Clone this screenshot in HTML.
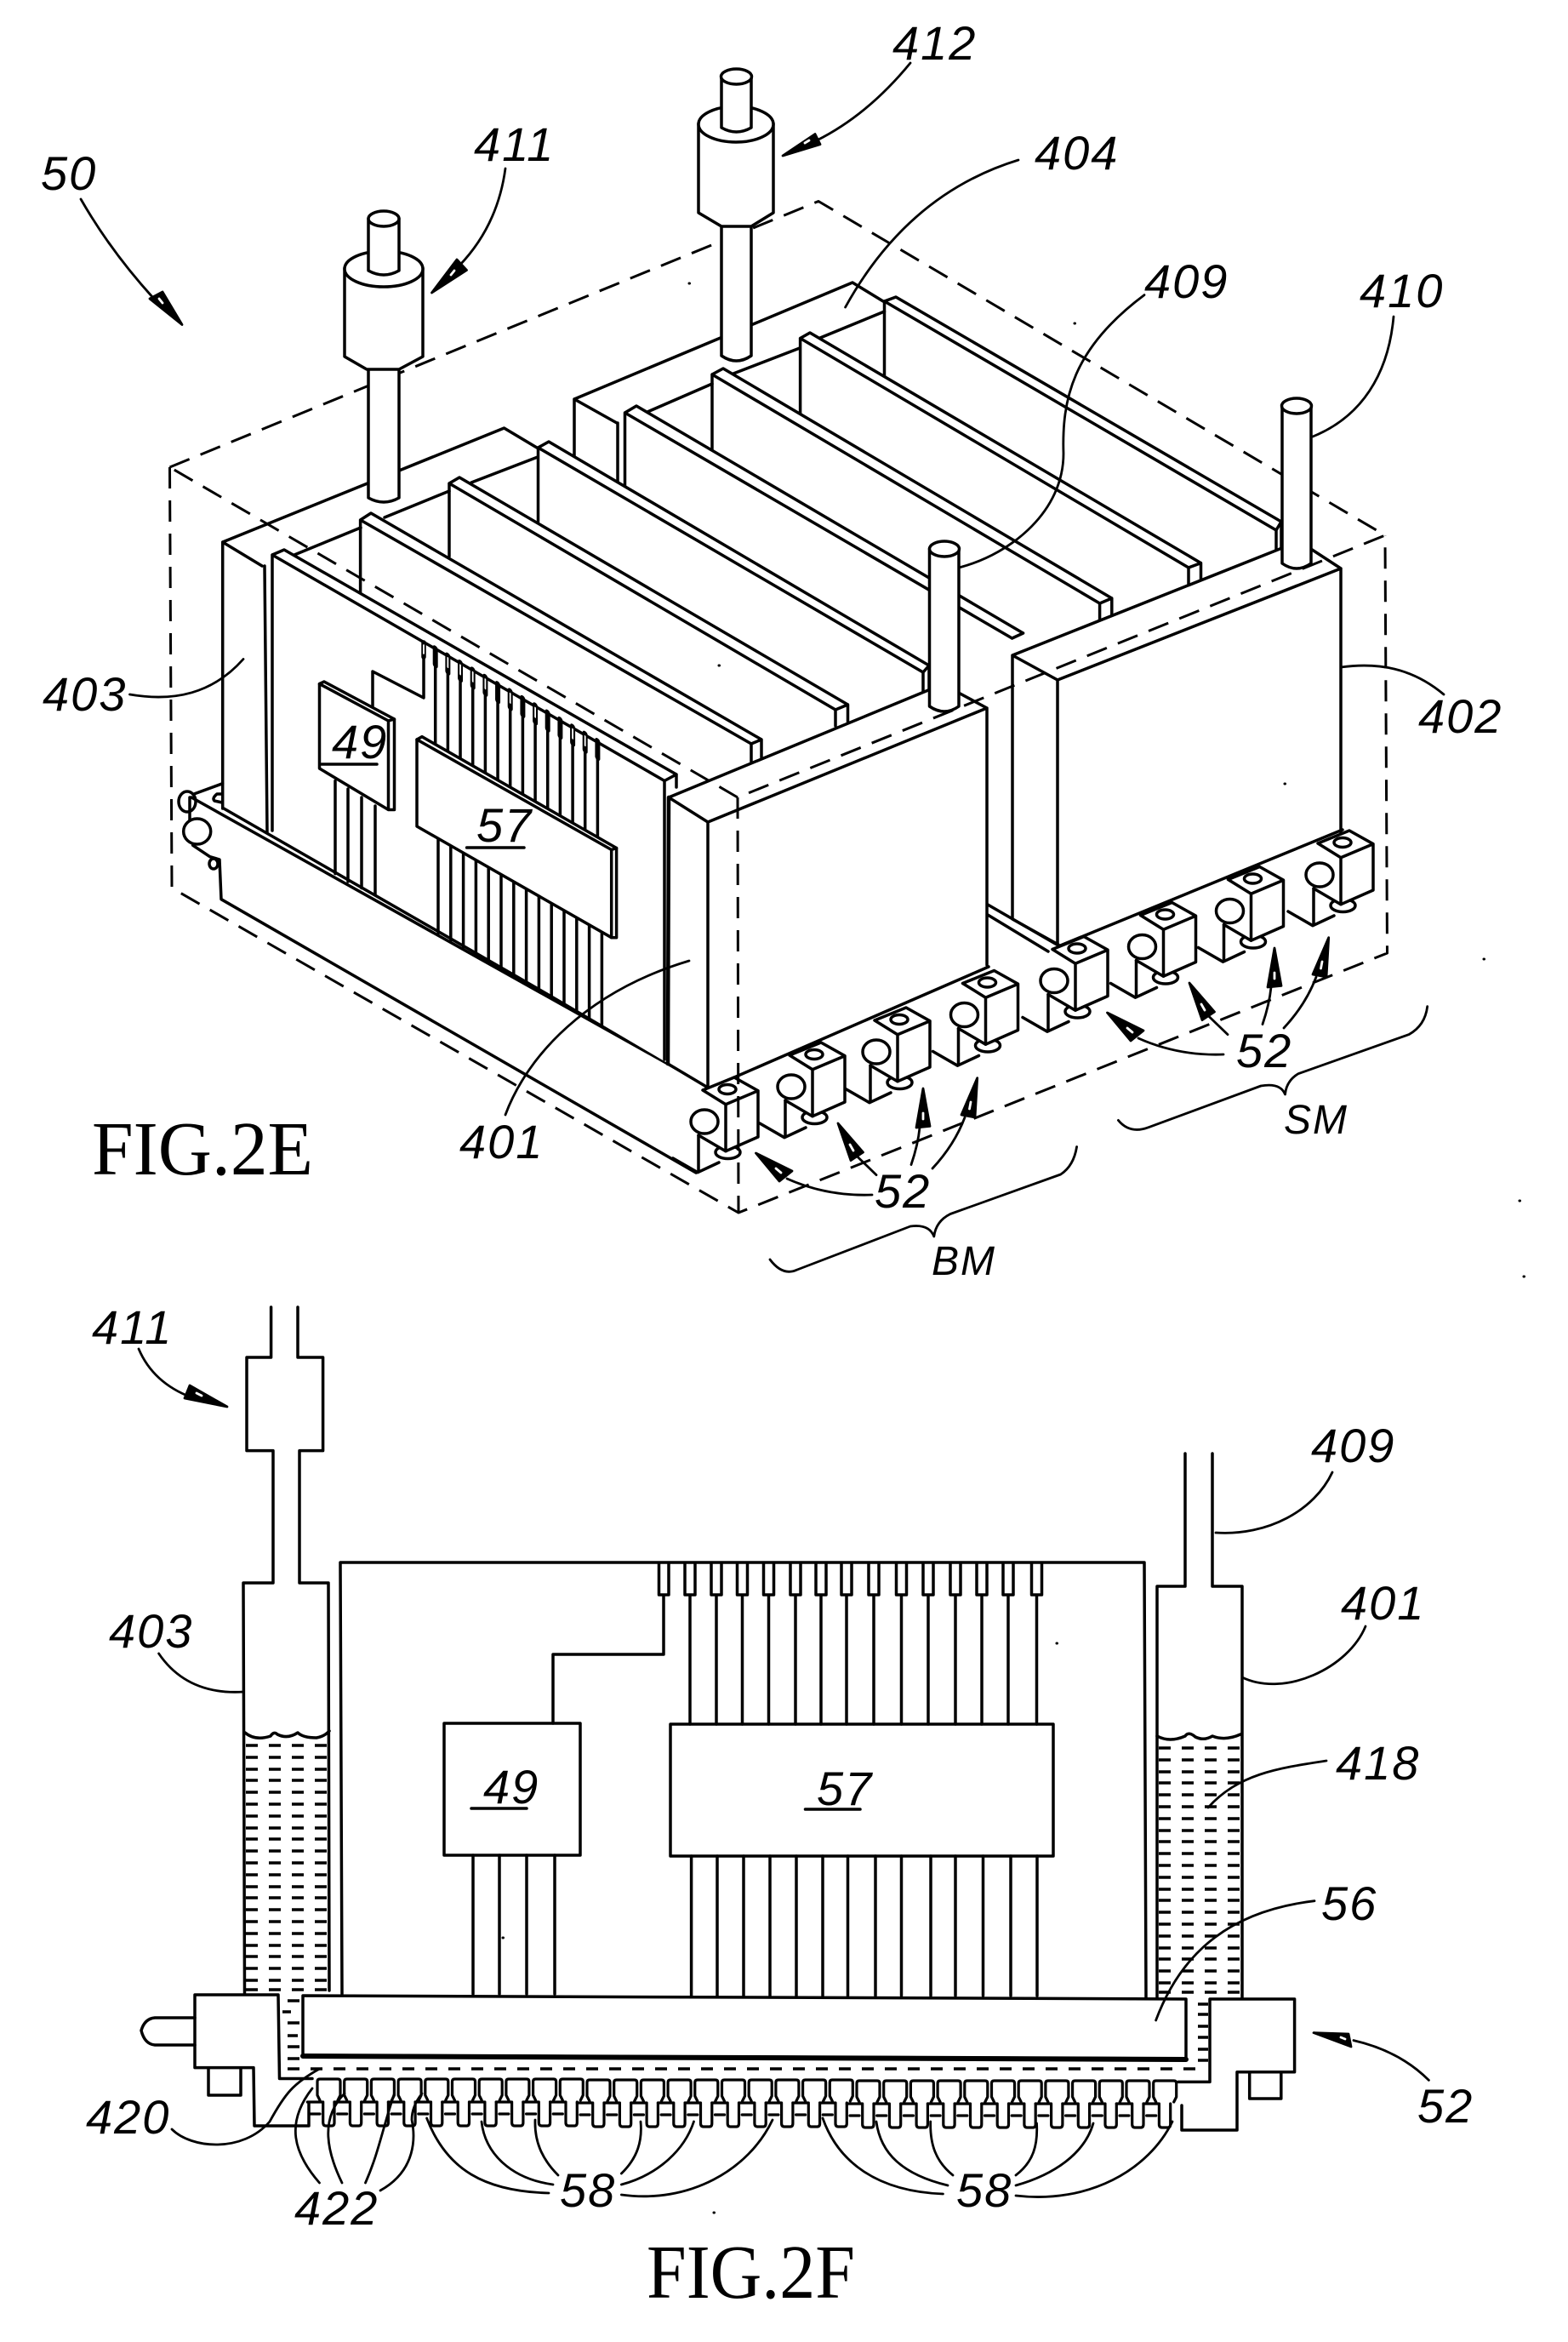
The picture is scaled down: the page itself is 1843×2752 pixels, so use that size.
<!DOCTYPE html>
<html><head><meta charset="utf-8"><title>FIG 2E 2F</title>
<style>html,body{margin:0;padding:0;background:#fff}svg{display:block}
.l{font-family:"Liberation Sans",sans-serif;font-style:italic;font-size:56px;letter-spacing:2px;fill:#000;stroke:none}
.f{font-family:"Liberation Serif",serif;font-size:90px;fill:#000;stroke:none}
</style></head><body>
<svg xmlns="http://www.w3.org/2000/svg" width="1843" height="2752" viewBox="0 0 1843 2752">
<rect width="1843" height="2752" fill="#fff"/>
<defs>
<g id="b">
<path d="M-63.5 96 L-34.5 112.7 L-9.5 101"/><path d="M-33.5 69 V111"/>
<ellipse cx="1" cy="89" rx="14.5" ry="7.5" fill="#fff"/>
<path fill="#fff" stroke="none" d="M-28.5 16 L8.5 1 L36.5 16.7 V71 L-1.5 87.7 L-33.5 69 Z"/>
<path d="M-28.5 16 L8.5 1 L36.5 16.7 V71 L-1.5 87.7 L-33.5 69 M-28.5 16 L-1.5 32.7 L36.5 16.7 M-1.5 32.7 V87.7"/>
<ellipse cx="0.5" cy="15" rx="10" ry="5.5"/>
<ellipse cx="-26.5" cy="53" rx="16" ry="14" fill="#fff"/>
</g>
<g id="t"><path d="M3 2468 L0 2462 V2446 Q0 2443 3 2443 H24 Q27 2443 27 2446 V2462 L24 2468"/><path d="M-11.7 2470 H6.7 V2494 Q6.7 2498 10 2498 H17 Q20 2498 20 2494 V2470"/><path d="M-8 2484 H3"/></g>
<g id="ar52" stroke-width="2.8">
<path d="M1438 1239 Q1385 1241 1338 1220"/>
<path fill="#000" d="M1301.5 1190 L1344 1211 L1329 1223 Z"/>
<path stroke="#fff" d="M1325 1208 L1331 1213"/>
<path d="M1443 1215.6 L1417.5 1191"/>
<path fill="#000" d="M1398 1155 L1427.5 1189 L1413 1198.6 Z"/>
<path stroke="#fff" d="M1412 1180 L1416 1187"/>
<path d="M1484 1203.5 Q1492 1180 1494 1160"/>
<path fill="#000" d="M1498 1114 L1506 1158.4 L1490 1160 Z"/>
<path stroke="#fff" d="M1498 1143 V1150"/>
<path d="M1509 1208 Q1535 1180 1547 1148"/>
<path fill="#000" d="M1561.7 1101.7 L1559 1148 L1543 1145 Z"/>
<path stroke="#fff" d="M1554 1130 L1552.5 1138"/>
</g>
</defs>
<g fill="none" stroke="#000" stroke-width="3.5" stroke-linejoin="round" stroke-linecap="round">
<!-- back tank 404 -->
<path d="M675 469 L1002 332 L1038 354 M675 469 V536 M675 469 L725 497 M726 497 V570"/>
<!-- SM fins -->
<path fill="#fff" stroke="none" d="M1039.5 354 L1053 349 L1506 613 V650 H1500 L1039.5 444 Z"/>
<path d="M1039.5 444 V354 L1053 349 L1506 613 V645 M1039.5 354 L1500 623 V648 M1500 623 L1506 613"/>
<path d="M964 397 L1039.5 366"/>
<path fill="#fff" stroke="none" d="M940.6 397.5 L952 391 L1411.5 661.6 V684 L1397 689 L940.6 486 Z"/>
<path d="M940.6 486 V397.5 L952 391 L1411.5 661.6 V683 M940.6 397.5 L1397 667 V688 M1397 667 L1411.5 661.6"/>
<path d="M862 439 L940 409"/>
<path fill="#fff" stroke="none" d="M837 440 L850 433 L1306.8 703 V725 L1292.6 730 L837 528 Z"/>
<path d="M837 528 V440 L850 433 L1306.8 703 V725 M837 440 L1292.6 709 V730 M1292.6 709 L1306.8 703"/>
<path d="M761 484 L837 451"/>
<path fill="#fff" stroke="none" d="M734.5 485 L748 477 L1202.6 744 V770 L1189.6 776 L734.5 590 Z"/>
<path d="M734.5 585 V485 L748 477 L1202.6 744 M734.5 485 L1189.6 750 M1189.6 750 L1202.6 744"/>
<!-- tank 402 -->
<path fill="#fff" d="M1190 770 L1527 636 L1576 668 V980 L1244 1110 L1191 1080 Z" stroke="none"/>
<path d="M1190 770 L1527 636 L1576 668 L1243 799 Z M1243 799 V1110 M1190 770 V1080 L1244 1110 M1576 668 V980"/>
<path d="M1161 1063 L1244 1111 M1161 1075 L1232 1118"/>
<path d="M1244 1112 L1578 975"/>
<use href="#b" x="1577.5" y="975"/><use href="#b" x="1472" y="1017.5"/><use href="#b" x="1369" y="1059.5"/><use href="#b" x="1265.5" y="1099.5"/>
<!-- tank 403 -->
<path fill="#fff" stroke="none" d="M261.7 637 L592.5 503 L631 526 V620 L320 980 L261.7 951 Z"/>
<path d="M261.7 637 L592.5 503 L631 526 M261.7 637 L308 665 M311 665 L314 978 M261.7 637 V950"/>
<!-- tray -->
<ellipse cx="220" cy="942" rx="10" ry="12" fill="#fff"/>
<path d="M225 937 L833 1277 M263 950 L786 1250 M223 937 V967 M226.7 993.3 L246.7 1006.7 L258 1010 L260 1056.7 L818 1378 M228 933 L261.7 920.7"/>
<path d="M261 933 H255 Q249 938 252 941 L261 943"/>
<ellipse cx="231.7" cy="977" rx="16" ry="15" fill="#fff"/><ellipse cx="251" cy="1015" rx="5" ry="6"/>
<!-- BM fins -->
<path fill="#fff" stroke="none" d="M632.5 526 L645 519 L1092 782 V815 L1085 815 L632.5 615 Z"/>
<path d="M632.5 613 V526 L645 519 L1092 782 V810 M632.5 526 L1085 790 V812 M1085 790 L1092 782"/>
<path d="M554 567 L632 537"/>
<path fill="#fff" stroke="none" d="M528 568 L540 561 L996.5 828 V850 L982 855 L528 656 Z"/>
<path d="M528 654 V568 L540 561 L996.5 828 V848 M528 568 L982 834 V853 M982 834 L996.5 828"/>
<path d="M452 608 L528 577"/>
<path fill="#fff" stroke="none" d="M423.6 611 L436 603 L895 869 V890 L883 897 L423.6 700 Z"/>
<path d="M423.6 698 V611 L436 603 L895 869 V890 M423.6 611 L883 874 V895 M883 874 L895 869"/>
<path d="M346 652 L424 620"/>
<path fill="#fff" stroke="none" d="M320 652 L334 646 L795 910 V935 L786 1250 L320 976 Z"/>
<path d="M320 976 V652 L334 646 L795 910 V925 M320 652 L781 917.5 V1245 M781 917.5 L795 910"/>
<!-- board wires -->
<g transform="translate(511.7,761.7) skewY(29.7)">
<path d="M0 0V112M14.67 0V112M29.34 0V112M44 0V112M58.7 0V112M73.35 0V112M88 0V112M102.7 0V112M117.4 0V112M132 0V112M146.7 0V112M161.4 0V112M176 0V112M190.7 0V112"/>
<path stroke-width="6" d="M0 0V20M14.67 0V20M29.34 0V20M44 0V20M58.7 0V20M73.35 0V20M88 0V20M102.7 0V20M117.4 0V20M132 0V20M146.7 0V20M161.4 0V20M176 0V20M190.7 0V20"/>
<path stroke="#fff" stroke-width="1.8" d="M14.67 3V14M29.34 3V14M44 3V14M58.7 3V14M88 3V14M117.4 3V14M161.4 3V14M176 3V14"/>
</g>
<g transform="translate(515,985) skewY(29.7)"><path d="M0 0V111M14.8 0V111M29.6 0V111M44.4 0V111M59.2 0V111M74 0V111M88.8 0V111M103.6 0V111M118.4 0V111M133.2 0V111M148 0V111M162.8 0V111M177.6 0V111M192.4 0V111"/></g>
<path d="M394 917.5 V1026.6 M409 927 V1036 M425 937 V1043.5 M441 947 V1051"/>
<path d="M438 830 V789 L498 820 V755"/>
<path stroke-width="5.5" d="M498 755 V772"/><path stroke="#fff" stroke-width="1.8" d="M498 758 V768"/>
<path fill="#fff" d="M375.5 803.6 L381 801 L463.5 845 V951.5 H456.5 L375.5 903 Z"/>
<path d="M375.5 803.6 L456.5 847 V951 M456.5 847 L463.5 845"/>
<path fill="#fff" d="M490 869 L496 865.7 L724.6 996.5 V1101.7 H718.7 L490 971 Z"/>
<path d="M490 869 L718.7 998.5 V1101.7 M718.7 998.5 L724.6 996.5"/>
<!-- tank 401 -->
<path fill="#fff" stroke="none" d="M786 937 L1108 804 L1160 832 V1134 L832 1278 L785 1250 Z"/>
<path d="M786 937 L1108 804 L1160 832 L832 966 Z M832 966 V1278 M786 937 L785 1250 L832 1278 M1160 832 V1134"/>
<path stroke-width="4.5" d="M786 937 L785 1250"/>
<path d="M833 1279 L1162 1136"/>
<use href="#b" x="1160" y="1139.5"/><use href="#b" x="1056.5" y="1183"/><use href="#b" x="956.5" y="1224"/><use href="#b" x="854.5" y="1265"/>
<!-- dashed box -->
<path stroke-width="3" stroke-linecap="butt" stroke-dasharray="25 14" d="M199.5 549 L962 236.5 L1628 629 L867 937 L199.5 549 M199.5 549 L202 1043.5 L868 1425 L1630.5 1120 L1628 629 M867 937 L868 1425"/>
<!-- pipes -->
<path fill="#fff" d="M433 434 V585 Q451 595 469 585 V434"/>
<path fill="#fff" d="M405 315 V419 L431 434 H469 L497 419 V315 Z"/>
<ellipse cx="451" cy="316" rx="46" ry="21" fill="#fff"/>
<path fill="#fff" d="M433 257 V318 Q451 328 469 318 V257"/><ellipse cx="451" cy="257" rx="18" ry="9" fill="#fff"/>
<path fill="#fff" d="M848 266 V418 Q865.5 430 883 418 V266"/>
<path fill="#fff" d="M821 145 V250 L848 266 H883 L909 250 V145 Z"/>
<ellipse cx="865" cy="146" rx="44" ry="21" fill="#fff"/>
<path fill="#fff" d="M848 90 V150 Q865.5 160 883 150 V90"/><ellipse cx="865.5" cy="90" rx="18" ry="9" fill="#fff"/>
<path fill="#fff" d="M1092.5 645 V830 Q1110 842 1127 830 V645"/><ellipse cx="1110" cy="645" rx="17.5" ry="9" fill="#fff"/>
<path fill="#fff" d="M1507 477 V662 Q1524 674 1541 662 V477"/><ellipse cx="1524" cy="477" rx="17.5" ry="9" fill="#fff"/>
<!-- leaders 2E -->
<g stroke-width="2.8">
<path d="M95 234 Q130 295 180 350"/><path fill="#000" d="M214 381.5 L191 343 L176 351 Z"/><path stroke="#fff" d="M187 351 L191 356"/>
<path d="M594 198 Q585 265 540 312"/><path fill="#000" d="M507.5 344 L537 305 L548.5 317.5 Z"/><path stroke="#fff" d="M534 318 L530 323"/>
<path d="M1070 74 Q1020 135 960 165"/><path fill="#000" d="M920 183 L958 157.5 L964 169.6 Z"/><path stroke="#fff" d="M951 165 L946 168"/>
<path d="M1197 188 Q1067 228 993.6 361"/>
<path d="M1345 346.6 C1260 410 1248 470 1250 533 C1250 600 1190 650 1129 666.5"/>
<path d="M1638 372 C1632 440 1600 490 1543 513"/>
<path d="M152.5 816 C205 825 250 815 286 774.5"/>
<path d="M1697 816 C1660 785 1620 778 1576 784"/>
<path d="M594 1310 C620 1240 690 1165 810 1129"/>
<use href="#ar52"/>
<use href="#ar52" transform="translate(-413,165)"/>
<path d="M1677.7 1182.7 Q1675 1205 1656 1215.6 L1526 1261.7 Q1512 1270 1510.5 1286 Q1505 1272 1482 1276 L1350 1324.7 Q1328 1333 1314.4 1316.4"/>
<path d="M1265.6 1347.5 Q1262 1370 1246.7 1380 L1117 1426.5 Q1100 1435 1097.8 1453 Q1092 1438 1070 1441 L937 1492 Q920 1500 905 1480"/>
</g>
<!-- FIG 2F -->
<path d="M318.6 1536 V1595 H290 V1704.6 H321 V1860 H286 L287.5 2343 M350 1536 V1595 H379.6 V1704.6 H352 V1860 H386 L387 2339"/>
<path d="M288 2036 Q300 2046 318 2040 Q322 2034 326 2038 Q338 2044 350 2036 Q356 2042 372 2042 Q382 2040 387 2034"/>
<path d="M1360 2347 V1864 H1393 V1708 M1425 1708 V1864 H1460 V2347"/>
<path d="M1360 2040 Q1375 2048 1393 2040 Q1397 2034 1405 2041 Q1415 2046 1425 2040 Q1440 2046 1458 2038"/>
<path d="M402 2343 L400 1836 H1345 L1347 2347"/>
<g stroke-width="3.5" stroke-linecap="butt" stroke-dasharray="14 13">
<path d="M289 2051H386M289 2065H386M289 2079H386M289 2092H386M289 2106H386M289 2120H386M289 2134H386M289 2148H386M289 2161H386M289 2175H386M289 2189H386M289 2203H386M289 2217H386M289 2230H386M289 2244H386M289 2258H386M289 2272H386M289 2286H386M289 2299H386M289 2313H386M289 2327H386M289 2338H386"/>
<path d="M1362 2054H1459M1362 2068H1459M1362 2082H1459M1362 2095H1459M1362 2109H1459M1362 2123H1459M1362 2137H1459M1362 2151H1459M1362 2164H1459M1362 2178H1459M1362 2192H1459M1362 2206H1459M1362 2220H1459M1362 2233H1459M1362 2247H1459M1362 2261H1459M1362 2275H1459M1362 2289H1459M1362 2302H1459M1362 2316H1459M1362 2330H1459M1362 2341H1459"/>
<path d="M338 2431H1412"/>
<path stroke-dasharray="none" d="M1408 2355H1420M1408 2367H1420M1408 2381H1420M1408 2394H1420M1408 2408H1420M1408 2421H1420"/>
<path stroke-dasharray="none" d="M338 2351H352M332 2364H342M338 2377H352M338 2392H350M338 2405H352M338 2419H352"/>
</g>
<!-- pins -->
<path d="M774.5 1838 V1874 H786 V1838 M805 1838 V1874 H817 V1838 M836 1838 V1874 H848 V1838 M866.5 1838 V1874 H878.5 V1838 M897.5 1838 V1874 H909.5 V1838 M929 1838 V1874 H941 V1838 M959 1838 V1874 H971 V1838 M989 1838 V1874 H1001 V1838 M1021 1838 V1874 H1033 V1838 M1053.5 1838 V1874 H1065.5 V1838 M1085 1838 V1874 H1097 V1838 M1117 1838 V1874 H1129 V1838 M1148 1838 V1874 H1160 V1838 M1179 1838 V1874 H1191 V1838 M1212.5 1838 V1874 H1224.5 V1838"/>
<path d="M780 1876 V1944 H650 V2025"/>
<path d="M811 1876V2026M842 1876V2026M872.5 1876V2026M903.5 1876V2026M935 1876V2026M965 1876V2026M995 1876V2026M1027 1876V2026M1059.5 1876V2026M1091 1876V2026M1123 1876V2026M1154 1876V2026M1185 1876V2026M1218.5 1876V2026"/>
<rect x="522" y="2025" width="160" height="155"/>
<rect x="788" y="2026" width="450" height="155"/>
<path d="M556 2180V2343M587 2180V2343M619 2180V2343M652 2180V2343"/>
<path d="M812.6 2181V2345M843 2181V2345M874 2181V2345M905 2181V2345M936 2181V2345M967 2181V2345M996.5 2181V2345M1029 2181V2345M1059.5 2181V2345M1094 2181V2345M1123 2181V2345M1155.5 2181V2345M1188 2181V2345M1219 2181V2345"/>
<path fill="#fff" d="M356 2345 L1394 2349 V2419 L356 2415 Z"/>
<path stroke-width="6" d="M356 2416 L1394 2420"/>
<path d="M229 2344 H327 L328.5 2442.5 H367 M229 2344 V2429.6 H298 L299 2498 H363 V2472"/>
<path d="M229 2371 H182 Q170 2372 166 2386 Q170 2402 182 2403 H229"/>
<path d="M245 2430 V2462 H283 V2430"/>
<path d="M1422 2349 H1521.6 V2434.7 H1454 V2503 H1389 V2474 M1422 2349 V2446.4 H1385"/>
<path d="M1468.7 2435 V2466 H1505.8 V2435"/>
<g stroke-width="3.2">
<use href="#t" x="373"/><use href="#t" x="404.7"/><use href="#t" x="436.4"/><use href="#t" x="468.1"/><use href="#t" x="499.8"/><use href="#t" x="531.5"/><use href="#t" x="563.2"/><use href="#t" x="594.9"/><use href="#t" x="626.6"/><use href="#t" x="658.3"/><use href="#t" x="690" y="1"/><use href="#t" x="721.7" y="1"/><use href="#t" x="753.4" y="1"/><use href="#t" x="785.1" y="1"/><use href="#t" x="816.8" y="1"/><use href="#t" x="848.5" y="1"/><use href="#t" x="880.2" y="1"/><use href="#t" x="911.9" y="1"/><use href="#t" x="943.6" y="1"/><use href="#t" x="975.3" y="1"/><use href="#t" x="1007" y="2"/><use href="#t" x="1038.7" y="2"/><use href="#t" x="1070.4" y="2"/><use href="#t" x="1102.1" y="2"/><use href="#t" x="1133.8" y="2"/><use href="#t" x="1165.5" y="2"/><use href="#t" x="1197.2" y="2"/><use href="#t" x="1228.9" y="2"/><use href="#t" x="1260.6" y="2"/><use href="#t" x="1292.3" y="2"/><use href="#t" x="1324" y="2"/><use href="#t" x="1355.7" y="2"/>
</g>
<!-- leaders 2F -->
<g stroke-width="2.8">
<path d="M163 1585 Q180 1625 225 1642"/><path fill="#000" d="M267 1653 L223 1628 L217 1643 Z"/><path stroke="#fff" d="M231 1637 L237 1640"/>
<path d="M186.6 1943 Q220 1992 286 1988"/>
<path d="M1566 1730 C1545 1775 1490 1805 1429 1801"/>
<path d="M1605 1911 C1585 1960 1510 1995 1460 1971"/>
<path d="M1559 2069 C1500 2078 1455 2085 1420 2124"/>
<path d="M1545 2233.7 C1450 2245 1390 2290 1358.6 2374"/>
<path d="M1679.4 2444.4 Q1645 2410 1591 2397.6"/><path fill="#000" d="M1544 2388.6 L1585 2390 L1588 2405 Z"/><path stroke="#fff" d="M1576 2394 L1581 2396"/>
<path d="M202 2502 C225 2525 285 2530 317 2493 C335 2460 345 2448 375.5 2431"/>
<path d="M375.5 2565 C345 2530 335 2495 367 2454"/>
<path d="M402 2565 C385 2530 375 2490 405 2460"/>
<path d="M429.5 2565 C445 2530 450 2500 463.5 2460"/>
<path d="M447 2574 C490 2550 488 2510 484 2491 Q484 2475 496 2460"/>
<path d="M645 2577 C570 2575 525 2550 501.6 2489"/>
<path d="M650 2567 C600 2560 570 2530 566 2493"/>
<path d="M656 2556 C640 2540 628 2520 629 2491"/>
<path d="M730.4 2554 C750 2535 755 2515 753 2493"/>
<path d="M730.4 2567 C775 2555 805 2525 815.5 2493"/>
<path d="M730.4 2579 C810 2590 880 2550 908 2491"/>
<path d="M1108.4 2578 C1030 2575 985 2540 967 2489"/>
<path d="M1114 2568 C1060 2555 1035 2530 1030 2493"/>
<path d="M1120 2556 C1100 2540 1093 2520 1093.7 2493"/>
<path d="M1194 2556 C1215 2540 1220 2520 1218.5 2495"/>
<path d="M1194 2568 C1240 2555 1275 2530 1285 2495"/>
<path d="M1194 2580 C1280 2590 1350 2550 1378 2493"/>
</g>
<path stroke-width="3.5" d="M378 898H443M548.6 996H616M554 2125H619M946.5 2126H1011"/>
<path stroke-width="3" d="M810 333h.5M1263 380h.5M1510 921h.5M1744 1127h.5M1786 1411h.5M1791 1500h.5M845 782h.5M1242 1931h.5M839 2600h.5M591 2277h.5"/>
</g>
<!-- labels -->
<text class="l" x="48" y="223">50</text>
<text class="l" x="557" y="189">411</text>
<text class="l" x="1049" y="70">412</text>
<text class="l" x="1216" y="199">404</text>
<text class="l" x="1345" y="350">409</text>
<text class="l" x="1598" y="361">410</text>
<text class="l" x="50" y="835">403</text>
<text class="l" x="1667" y="861">402</text>
<text class="l" x="540" y="1361">401</text>
<text class="l" x="390" y="891">49</text>
<text class="l" x="560" y="989">57</text>
<text class="l" x="1453" y="1254">52</text>
<text class="l" x="1028" y="1419">52</text>
<text class="l" x="1509" y="1332" style="font-size:48px">SM</text>
<text class="l" x="1095" y="1498" style="font-size:48px">BM</text>
<text class="f" x="108" y="1380" textLength="260" lengthAdjust="spacingAndGlyphs">FIG.2E</text>
<text class="l" x="108" y="1579">411</text>
<text class="l" x="128" y="1936">403</text>
<text class="l" x="1541" y="1718">409</text>
<text class="l" x="1576" y="1903">401</text>
<text class="l" x="1570" y="2091">418</text>
<text class="l" x="1553" y="2256">56</text>
<text class="l" x="1666" y="2494">52</text>
<text class="l" x="101" y="2507">420</text>
<text class="l" x="346" y="2614">422</text>
<text class="l" x="658" y="2593">58</text>
<text class="l" x="1124" y="2593">58</text>
<text class="l" x="568" y="2119">49</text>
<text class="l" x="960" y="2121">57</text>
<text class="f" x="760" y="2700" textLength="245" lengthAdjust="spacingAndGlyphs">FIG.2F</text>
</svg>
</body></html>
